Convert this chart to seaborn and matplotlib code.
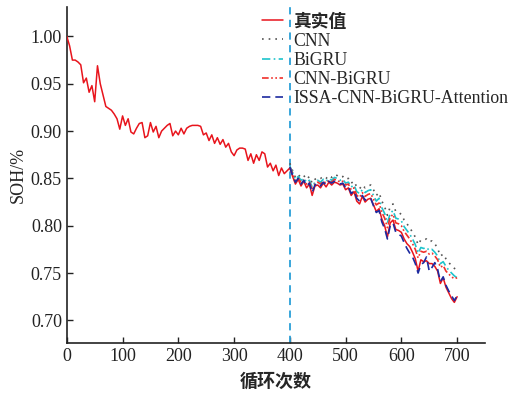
import numpy as np
import pandas as pd
import matplotlib
matplotlib.use("Agg")
import matplotlib.pyplot as plt
import seaborn as sns

# cycles for the measured curve (every 5 cycles) and the prediction window
cycles = list(range(0, 705, 5))
pred_cycles = list(range(400, 705, 5))

true_soh = [
    1.000, 0.990, 0.975, 0.975, 0.973, 0.970, 0.951, 0.956, 0.941, 0.948,
    0.931, 0.969, 0.950, 0.938, 0.926, 0.924, 0.922, 0.918, 0.913, 0.902,
    0.916, 0.906, 0.913, 0.899, 0.897, 0.903, 0.908, 0.909, 0.893, 0.895,
    0.909, 0.899, 0.905, 0.893, 0.900, 0.903, 0.906, 0.908, 0.895, 0.900,
    0.896, 0.903, 0.897, 0.903, 0.905, 0.906, 0.906, 0.906, 0.905, 0.896,
    0.898, 0.890, 0.896, 0.887, 0.893, 0.886, 0.891, 0.883, 0.887, 0.878,
    0.874, 0.880, 0.882, 0.882, 0.881, 0.869, 0.876, 0.866, 0.875, 0.869,
    0.878, 0.876, 0.862, 0.866, 0.858, 0.864, 0.853, 0.861, 0.855, 0.858,
    0.861, 0.852, 0.844, 0.849, 0.842, 0.847, 0.840, 0.844, 0.832, 0.842,
    0.843, 0.840, 0.845, 0.841, 0.846, 0.843, 0.846, 0.845, 0.843, 0.844,
    0.838, 0.840, 0.832, 0.836, 0.826, 0.823, 0.831, 0.825, 0.828, 0.829,
    0.822, 0.815, 0.818, 0.807, 0.800, 0.788, 0.803, 0.806, 0.796, 0.795,
    0.793, 0.786, 0.781, 0.778, 0.772, 0.765, 0.752, 0.764, 0.762, 0.763,
    0.760, 0.760, 0.757, 0.752, 0.739, 0.745, 0.735, 0.729, 0.723, 0.719,
    0.725,
]

cnn = [
    0.866, 0.858, 0.851, 0.854, 0.851, 0.853, 0.849, 0.852, 0.845, 0.849,
    0.851, 0.850, 0.852, 0.850, 0.853, 0.851, 0.854, 0.853, 0.851, 0.852,
    0.849, 0.850, 0.845, 0.847, 0.841, 0.839, 0.843, 0.840, 0.842, 0.843,
    0.838, 0.832, 0.835, 0.826, 0.820, 0.811, 0.820, 0.823, 0.815, 0.814,
    0.812, 0.806, 0.802, 0.798, 0.793, 0.788, 0.780, 0.785, 0.785, 0.786,
    0.783, 0.784, 0.781, 0.776, 0.768, 0.770, 0.765, 0.761, 0.758, 0.755,
    0.753,
]

bigru = [
    0.863, 0.856, 0.849, 0.852, 0.848, 0.850, 0.846, 0.848, 0.841, 0.846,
    0.848, 0.846, 0.849, 0.847, 0.850, 0.848, 0.851, 0.850, 0.848, 0.849,
    0.845, 0.846, 0.841, 0.843, 0.836, 0.834, 0.838, 0.835, 0.837, 0.838,
    0.832, 0.826, 0.829, 0.819, 0.813, 0.803, 0.813, 0.816, 0.808, 0.807,
    0.805, 0.799, 0.795, 0.791, 0.786, 0.780, 0.771, 0.777, 0.776, 0.777,
    0.774, 0.775, 0.772, 0.768, 0.760, 0.762, 0.757, 0.753, 0.750, 0.747,
    0.745,
]

cnn_bigru = [
    0.862, 0.855, 0.847, 0.850, 0.846, 0.848, 0.844, 0.846, 0.838, 0.844,
    0.846, 0.844, 0.847, 0.845, 0.848, 0.846, 0.849, 0.848, 0.846, 0.847,
    0.843, 0.844, 0.838, 0.840, 0.832, 0.830, 0.835, 0.831, 0.833, 0.834,
    0.828, 0.822, 0.824, 0.814, 0.808, 0.798, 0.809, 0.812, 0.803, 0.802,
    0.800, 0.794, 0.790, 0.786, 0.781, 0.775, 0.766, 0.773, 0.772, 0.773,
    0.770, 0.771, 0.768, 0.764, 0.756, 0.758, 0.752, 0.749, 0.746, 0.744,
    0.745,
]

issa = [
    0.862, 0.853, 0.846, 0.850, 0.844, 0.848, 0.842, 0.845, 0.835, 0.843,
    0.845, 0.842, 0.846, 0.843, 0.847, 0.845, 0.847, 0.846, 0.844, 0.845,
    0.840, 0.841, 0.834, 0.837, 0.829, 0.826, 0.832, 0.827, 0.829, 0.829,
    0.821, 0.814, 0.816, 0.804, 0.797, 0.786, 0.800, 0.803, 0.793, 0.791,
    0.789, 0.782, 0.776, 0.771, 0.767, 0.760, 0.750, 0.759, 0.761, 0.767,
    0.752, 0.756, 0.761, 0.754, 0.741, 0.746, 0.737, 0.731, 0.726, 0.721,
    0.726,
]

yticks = [0.70, 0.75, 0.80, 0.85, 0.90, 0.95, 1.00]

sns.set_style("ticks")
plt.rcParams['font.family'] = ['Liberation Serif', 'Noto Sans CJK SC']

fig = plt.figure(figsize=(5.1, 3.93), dpi=100)
ax = fig.add_axes([0.131, 0.127, 0.82, 0.855])

# train / test split
ax.axvline(400, color='#2a9fd8', ls=(0, (4, 3)), lw=1.3, zorder=1)

sns.lineplot(x=cycles, y=true_soh, ax=ax, color='#e8141c', lw=1.1, label='真实值', zorder=3)
sns.lineplot(x=pred_cycles, y=cnn, ax=ax, color='#555555', lw=1.2, ls=(0, (1, 3)), label='CNN', zorder=4)
sns.lineplot(x=pred_cycles, y=bigru, ax=ax, color='#1ec4cc', lw=1.2, ls=(0, (5, 2, 1, 2)), label='BiGRU', zorder=4)
sns.lineplot(x=pred_cycles, y=cnn_bigru, ax=ax, color='#f0302a', lw=1.2, ls=(0, (4, 1.5, 1, 1.5, 1, 1.5)), label='CNN-BiGRU', zorder=4)
sns.lineplot(x=pred_cycles, y=issa, ax=ax, color='#1c2aa0', lw=1.2, ls=(0, (5, 3)), label='ISSA-CNN-BiGRU-Attention', zorder=5)

ax.set_xlim(0, 750)
ax.set_ylim(0.676, 1.031)
ax.set_xticks(range(0, 701, 100))
ax.set_yticks(yticks)
ax.set_yticklabels([f'{v:.2f}' for v in yticks])
ax.tick_params(direction='in', length=4, width=1, labelsize=13, colors='#222222')
for s in ['top', 'right']:
    ax.spines[s].set_visible(False)
for s in ['left', 'bottom']:
    ax.spines[s].set_linewidth(1.2)
    ax.spines[s].set_color('#222222')

ax.set_xlabel('循环次数', fontsize=13, fontweight='bold', family=['Noto Sans CJK SC'], labelpad=5)
ax.set_ylabel('SOH/%', fontsize=13, labelpad=3)

leg = ax.legend(loc='upper left', bbox_to_anchor=(0.514, 0.966), bbox_transform=fig.transFigure,
                frameon=False, fontsize=12.8, handlelength=1.2, handletextpad=0.55,
                labelspacing=0.12, borderpad=0, borderaxespad=0)
leg.get_texts()[0].set_fontweight('bold')

fig.savefig('out.png', dpi=100)
